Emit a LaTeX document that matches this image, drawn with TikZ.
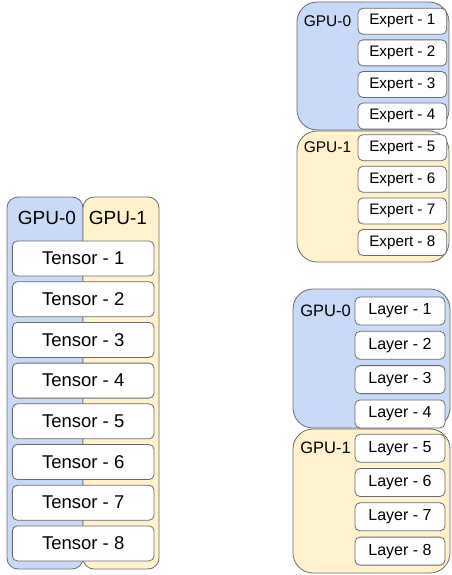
\documentclass[tikz,border=0pt]{standalone}
\usepackage{fontspec}
\setmainfont{Liberation Sans}
\definecolor{gpublue}{HTML}{C9DAF8}
\definecolor{gpuyellow}{HTML}{FFF2CC}
\definecolor{edge}{HTML}{6B6B6B}
\tikzset{
    panel/.style={draw=edge, line width=0.8pt},
    slot/.style={draw=edge, fill=white, line width=0.8pt, rounded corners=5pt, inner sep=0pt},
}
\begin{document}
\begin{tikzpicture}[x=1pt, y=-1pt]
        \useasboundingbox (0, 0) rectangle (451, 575);

        % Tensor parallel
        \draw [panel, fill=gpublue, rounded corners=11pt] (7, 197) rectangle (83, 569);
        \draw [panel, fill=gpuyellow, rounded corners=11pt] (83, 197) rectangle (159, 569);
        \node (tg0) at (47, 218) {\fontsize{19}{21}\selectfont GPU-0};
        \node (tg1) at (118, 218) {\fontsize{19}{21}\selectfont GPU-1};
        \foreach \i in {1,...,8}
            \node [slot, minimum width=141.7pt, minimum height=35pt] (T\i) at (83.2, {258.5 + 40.7*(\i-1)})
                {\fontsize{18.5}{20}\selectfont Tensor - \i};

        % Expert parallel
        \draw [panel, fill=gpublue, rounded corners=20pt] (297, 2) rectangle (449, 130);
        \draw [panel, fill=gpuyellow, rounded corners=20pt] (297, 131) rectangle (449, 262);
        \node (eg0) at (327.5, 21.3) {\fontsize{15.5}{17}\selectfont GPU-0};
        \node (eg1) at (327.5, 147.5) {\fontsize{15.5}{17}\selectfont GPU-1};
        \foreach \i in {1,...,8}
            \node [slot, minimum width=88.7pt, minimum height=26pt] (E\i) at (402.3, {21.3 + 31.6*(\i-1)})
                {\fontsize{15.2}{17}\selectfont Expert - \i};

        % Pipeline parallel
        \draw [panel, fill=gpublue, rounded corners=20pt] (293, 289) rectangle (450, 428);
        \draw [panel, fill=gpuyellow, rounded corners=20pt] (293, 429) rectangle (450, 573);
        \node (lg0) at (325.5, 311) {\fontsize{16.5}{18}\selectfont GPU-0};
        \node (lg1) at (325.5, 448) {\fontsize{16.5}{18}\selectfont GPU-1};
        \foreach \i in {1,...,8}
            \node [slot, minimum width=90pt, minimum height=28pt] (L\i) at (400, {311 + 34.3*(\i-1)})
                {\fontsize{16}{18}\selectfont Layer - \i};

    \end{tikzpicture}
\end{document}
